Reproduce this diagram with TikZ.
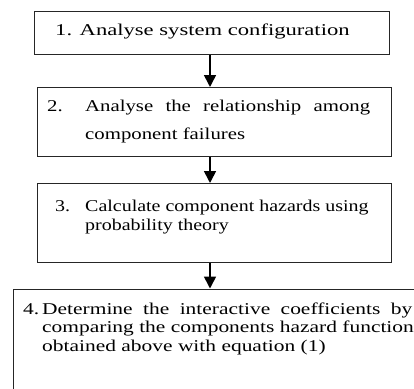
\documentclass[tikz,border=0pt]{standalone}
\usepackage{fontspec}
\setmainfont{Liberation Serif}
\newfontfamily\fa{Liberation Serif}[FakeStretch=1.37]
\newfontfamily\fb{Liberation Serif}[FakeStretch=1.26]
\newfontfamily\fc{Liberation Serif}[FakeStretch=1.21]
\newfontfamily\fd{Liberation Serif}[FakeStretch=1.3]
\usetikzlibrary{arrows.meta}
\tikzset{
  stepbox/.style={draw=black!85, line width=1.3pt, rectangle, inner sep=0pt, anchor=north west, fill=none},
  steptext/.style={anchor=base west, inner sep=0pt, align=left},
  flowarrow/.style={draw=black, line width=1.6pt, -{Triangle[length=12pt,width=12pt]}}
}
\begin{document}
\begin{tikzpicture}[x=1pt,y=1pt]
\useasboundingbox (0,0) rectangle (414,-388);
\clip (0,0) rectangle (414,-388);
\node[stepbox, minimum width=355pt, minimum height=43pt] (b1) at (34,-11) {};
\node[stepbox, minimum width=354pt, minimum height=69pt] (b2) at (37,-87) {};
\node[stepbox, minimum width=354pt, minimum height=79pt] (b3) at (37,-183) {};
\node[stepbox, minimum width=420pt, minimum height=130pt] (b4) at (13,-288.5) {};
\node[steptext, font=\fa\fontsize{16.5}{18}\selectfont] (t1) at (55,-35.7) {1. Analyse system configuration};
\node[steptext, font=\fb\fontsize{16.5}{28}\selectfont] (t2) at (47,-139) {\makebox[38pt][l]{2.}\makebox[285pt][s]{Analyse the relationship among}\\\hspace*{38pt}component failures};
\node[steptext, font=\fc\fontsize{16.5}{18.3}\selectfont] (t3) at (55,-230) {\makebox[30pt][l]{3.}Calculate component hazards using\\\hspace*{30pt}probability theory};
\node[steptext, font=\fd\fontsize{16.5}{18.9}\selectfont] (t4) at (23,-351.8) {\makebox[19pt][l]{4.}\makebox[370pt][s]{Determine the interactive coefficients by}\\\hspace*{19pt}comparing the components hazard function\\\hspace*{19pt}obtained above with equation (1)};
\coordinate (ax) at (210,0);
\draw[flowarrow] (b1.south -| ax) -- (b2.north -| ax);
\draw[flowarrow] (b2.south -| ax) -- (b3.north -| ax);
\draw[flowarrow] (b3.south -| ax) -- (b4.north -| ax);
\end{tikzpicture}
\end{document}
